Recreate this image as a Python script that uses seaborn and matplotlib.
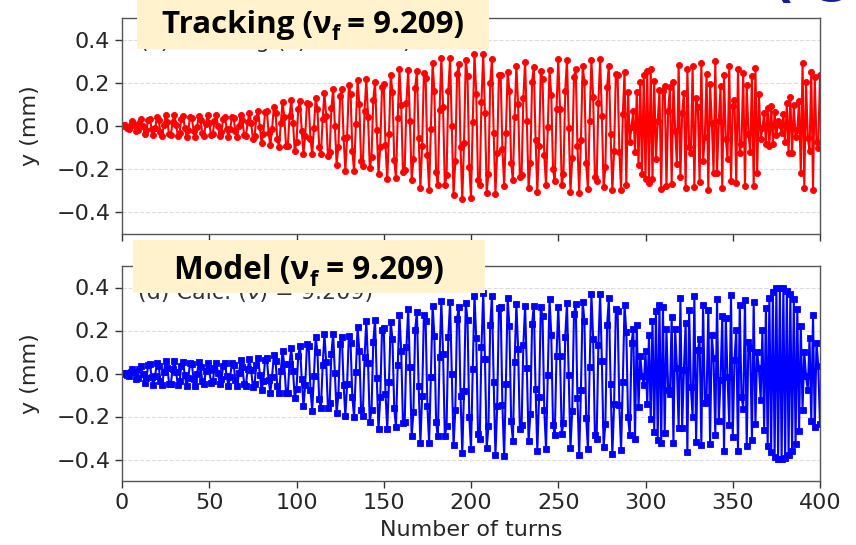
import numpy as np
import pandas as pd
import matplotlib
matplotlib.use("Agg")
import matplotlib.pyplot as plt
from matplotlib.patches import Rectangle
import seaborn as sns

# Turn grid on which the envelope and local tune are sampled (every 5 turns)
knot_turns = list(range(0, 401, 5))

# Betatron tune quoted for both runs
nu_f = 9.209

# Tracking: oscillation envelope (mm) and local fractional tune
tracking_amp = [
    0.00, 0.02, 0.03, 0.04, 0.045, 0.05, 0.05, 0.05, 0.05, 0.05,
    0.05, 0.05, 0.05, 0.05, 0.055, 0.065, 0.08, 0.09, 0.105, 0.12,
    0.125, 0.13, 0.135, 0.15, 0.17, 0.195, 0.215, 0.22, 0.22, 0.215,
    0.24, 0.26, 0.265, 0.26, 0.285, 0.30, 0.31, 0.32, 0.33, 0.34,
    0.35, 0.33, 0.345, 0.31, 0.27, 0.275, 0.30, 0.31, 0.30, 0.27,
    0.31, 0.32, 0.31, 0.31, 0.31, 0.31, 0.30, 0.30, 0.29, 0.27,
    0.26, 0.27, 0.30, 0.27, 0.29, 0.30, 0.30, 0.30, 0.30, 0.29,
    0.29, 0.28, 0.29, 0.27, 0.10, 0.08, 0.09, 0.18, 0.30, 0.30,
    0.28,
]
tracking_tune = [
    0.209, 0.209, 0.209, 0.209, 0.209, 0.209, 0.209, 0.209, 0.209, 0.209,
    0.209, 0.209, 0.209, 0.209, 0.209, 0.209, 0.209, 0.209, 0.209, 0.209,
    0.209, 0.209, 0.209, 0.209, 0.209, 0.209, 0.209, 0.209, 0.209, 0.209,
    0.209, 0.209, 0.209, 0.209, 0.209, 0.209, 0.209, 0.209, 0.209, 0.209,
    0.209, 0.209, 0.209, 0.209, 0.209, 0.209, 0.209, 0.209, 0.209, 0.209,
    0.209, 0.209, 0.209, 0.209, 0.209, 0.209, 0.209, 0.209, 0.45, 0.48,
    0.48, 0.45, 0.30, 0.38, 0.38, 0.38, 0.38, 0.38, 0.38, 0.38,
    0.38, 0.38, 0.42, 0.45, 0.45, 0.45, 0.45, 0.45, 0.42, 0.40,
    0.40,
]

# Model: oscillation envelope (mm) and local fractional tune
model_amp = [
    0.00, 0.02, 0.035, 0.05, 0.055, 0.06, 0.06, 0.06, 0.06, 0.055,
    0.05, 0.05, 0.055, 0.06, 0.065, 0.07, 0.08, 0.09, 0.10, 0.115,
    0.125, 0.16, 0.18, 0.18, 0.19, 0.195, 0.20, 0.22, 0.245, 0.265,
    0.26, 0.26, 0.28, 0.31, 0.32, 0.33, 0.33, 0.34, 0.345, 0.37,
    0.37, 0.37, 0.385, 0.385, 0.39, 0.33, 0.31, 0.35, 0.365, 0.36,
    0.31, 0.34, 0.385, 0.37, 0.375, 0.37, 0.38, 0.37, 0.32, 0.30,
    0.32, 0.33, 0.32, 0.32, 0.35, 0.37, 0.37, 0.33, 0.35, 0.36,
    0.37, 0.37, 0.36, 0.30, 0.37, 0.40, 0.40, 0.40, 0.36, 0.25,
    0.36,
]
model_tune = [
    0.209, 0.209, 0.209, 0.209, 0.209, 0.209, 0.209, 0.209, 0.209, 0.209,
    0.209, 0.209, 0.209, 0.209, 0.209, 0.209, 0.209, 0.209, 0.209, 0.209,
    0.209, 0.209, 0.209, 0.209, 0.209, 0.209, 0.209, 0.209, 0.209, 0.209,
    0.209, 0.209, 0.209, 0.209, 0.209, 0.209, 0.209, 0.209, 0.209, 0.209,
    0.209, 0.209, 0.209, 0.209, 0.209, 0.209, 0.209, 0.209, 0.209, 0.209,
    0.209, 0.209, 0.209, 0.209, 0.209, 0.209, 0.209, 0.209, 0.209, 0.45,
    0.48, 0.48, 0.46, 0.38, 0.38, 0.38, 0.38, 0.38, 0.38, 0.38,
    0.38, 0.38, 0.38, 0.45, 0.49, 0.49, 0.49, 0.49, 0.47, 0.42,
    0.40,
]

x_ticks = [0, 50, 100, 150, 200, 250, 300, 350, 400]
y_ticks = [-0.4, -0.2, 0.0, 0.2, 0.4]
y_ticklabels = ["\u22120.4", "\u22120.2", "0.0", "0.2", "0.4"]
# Highlight labels: (text before subscript, subscript, text after)
panel_titles = [("Tracking (ν", "f", " = 9.209)"), ("Model (ν", "f", " = 9.209)")]
hidden_titles = ["(c) Tracking (ν) = 9.209)", "(d) Calc. (ν) = 9.209)"]

turns = np.arange(0, 401)


def turn_by_turn(amp_knots, tune_knots):
    amp = np.interp(turns, knot_turns, amp_knots)
    tune = np.interp(turns, knot_turns, tune_knots)
    phase = 2 * np.pi * np.concatenate([[0.0], np.cumsum(tune[:-1])])
    return amp * np.sin(phase)


df = pd.DataFrame({
    "turn": turns,
    "tracking": turn_by_turn(tracking_amp, tracking_tune),
    "model": turn_by_turn(model_amp, model_tune),
})

sns.set_style("ticks")
plt.rcParams["font.family"] = ["DejaVu Sans"]

W, H = 856, 545
fig = plt.figure(figsize=(W / 100, H / 100), dpi=100)
ax_top = fig.add_axes([122 / W, 1 - 234 / H, 698 / W, 216 / H])
ax_bot = fig.add_axes([122 / W, 1 - 481 / H, 698 / W, 215 / H])

series = [("tracking", "#ff0000", "o", ax_top), ("model", "#0000ff", "s", ax_bot)]
for col, color, marker, ax in series:
    sns.lineplot(data=df, x="turn", y=col, ax=ax, color=color, marker=marker,
                 markersize=4.4, markeredgecolor=color, markeredgewidth=0.6,
                 linewidth=1.5)
    ax.set_xlim(0, 400)
    ax.set_ylim(-0.5, 0.5)
    ax.set_xticks(x_ticks)
    ax.set_yticks(y_ticks)
    ax.set_yticklabels(y_ticklabels)
    ax.grid(axis="y", linestyle="--", color="#dcdcdc", linewidth=0.8)
    ax.set_axisbelow(True)
    ax.set_ylabel("y (mm)", fontsize=16)
    ax.yaxis.set_label_coords(-0.1175, 0.5)
    ax.tick_params(labelsize=16, length=5, width=1, color="#333333", pad=3.5)
    for sp in ax.spines.values():
        sp.set_visible(True)
        sp.set_color("#555555")
        sp.set_linewidth(1.0)

ax_top.set_xlabel("")
ax_top.tick_params(labelbottom=False)
ax_bot.set_xlabel("Number of turns", fontsize=16, labelpad=5)

# Original panel captions sitting under the highlight boxes
fig.text(140 / W, 1 - 48 / H, hidden_titles[0], fontsize=16, color="#333333",
         va="baseline", ha="left")
fig.text(138 / W, 1 - 299 / H, hidden_titles[1], fontsize=16, color="#333333",
         va="baseline", ha="left")

renderer = fig.canvas.get_renderer()
label_font = dict(fontweight="bold", fontstretch="normal",
                  family=["Open Sans", "DejaVu Sans"])


def boxed_label(x0, y0, w, h, parts, yc, target_w, size=20):
    fig.add_artist(Rectangle((x0 / W, 1 - (y0 + h) / H), w / W, h / H,
                             transform=fig.transFigure, facecolor="#fff2cc",
                             edgecolor="none", zorder=5))
    pre, sub, post = parts
    kw = dict(color="black", zorder=6, va="baseline", ha="left", **label_font)
    t1 = fig.text(0, 0, pre, fontsize=size, **kw)
    t2 = fig.text(0, 0, sub, fontsize=size * 0.68, **kw)
    t3 = fig.text(0, 0, post, fontsize=size, **kw)
    total = sum(t.get_window_extent(renderer).width for t in (t1, t2, t3))
    # fit the label to its intended width, within a sensible size range
    size = min(max(size * target_w / total, 19), 23)
    t1.set_fontsize(size)
    t2.set_fontsize(size * 0.68)
    t3.set_fontsize(size)
    w1 = t1.get_window_extent(renderer).width
    w2 = t2.get_window_extent(renderer).width
    w3 = t3.get_window_extent(renderer).width
    xs = x0 + w / 2 - (w1 + w2 + w3) / 2
    base = yc + 0.36 * size * 1.39
    t1.set_position((xs / W, 1 - base / H))
    t2.set_position(((xs + w1) / W, 1 - (base + 0.22 * size * 1.39) / H))
    t3.set_position(((xs + w1 + w2) / W, 1 - base / H))


boxed_label(137, 0, 352, 49, panel_titles[0], 22, 303)
boxed_label(133, 240, 352, 53, panel_titles[1], 268, 270)

# Corner label continuing above the figure edge
corner = dict(fontsize=36, fontweight="bold", color="#1c1c8c", va="baseline", ha="left")
fig.text(772 / W, 1 + 4 / H, "(", **corner)
fig.text(816 / W, 1 + 8 / H, "g", **corner)

fig.savefig("out.png", dpi=100)
